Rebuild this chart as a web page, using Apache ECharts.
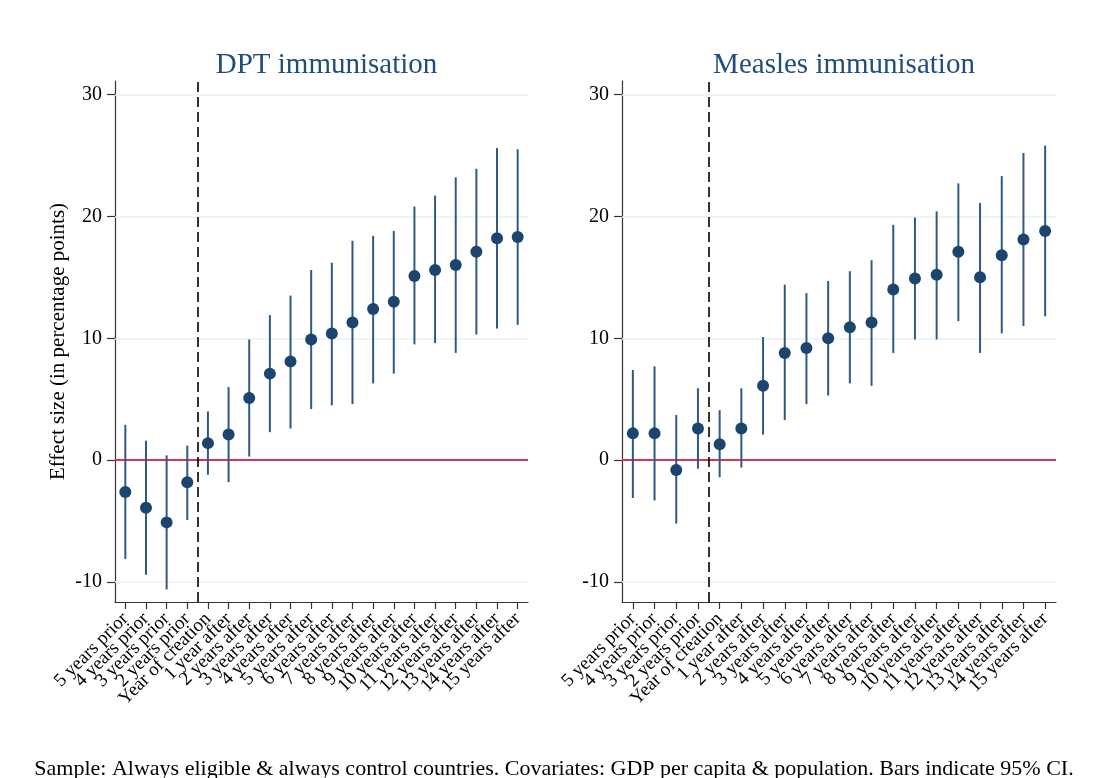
<!DOCTYPE html>
<html>
<head>
<meta charset="utf-8">
<script src="https://cdn.jsdelivr.net/npm/echarts@6/dist/echarts.min.js"></script>
<style>
html,body{margin:0;padding:0;background:#fff;}
#main{width:1097px;height:778px;}
</style>
</head>
<body>
<div id="main"></div>
<script>
const categories = ["5 years prior","4 years prior","3 years prior","2 years prior","Year of creation",
  "1 year after","2 years after","3 years after","4 years after","5 years after","6 years after",
  "7 years after","8 years after","9 years after","10 years after","11 years after","12 years after",
  "13 years after","14 years after","15 years after"];
const yTicks = [-10, 0, 10, 20, 30];

const dptEst = [-2.6,-3.9,-5.1,-1.8,1.4,2.1,5.1,7.1,8.1,9.9,10.4,11.3,12.4,13.0,15.1,15.6,16.0,17.1,18.2,18.3];
const dptLo  = [-8.1,-9.4,-10.6,-4.9,-1.2,-1.8,0.3,2.3,2.6,4.2,4.5,4.6,6.3,7.1,9.5,9.6,8.8,10.3,10.8,11.1];
const dptHi  = [2.9,1.6,0.4,1.2,4.0,6.0,9.9,11.9,13.5,15.6,16.2,18.0,18.4,18.8,20.8,21.7,23.2,23.9,25.6,25.5];

const meaEst = [2.2,2.2,-0.8,2.6,1.3,2.6,6.1,8.8,9.2,10.0,10.9,11.3,14.0,14.9,15.2,17.1,15.0,16.8,18.1,18.8];
const meaLo  = [-3.1,-3.3,-5.2,-0.7,-1.4,-0.6,2.1,3.3,4.6,5.3,6.3,6.1,8.8,9.9,9.9,11.4,8.8,10.4,11.0,11.8];
const meaHi  = [7.4,7.7,3.7,5.9,4.1,5.9,10.1,14.4,13.7,14.7,15.5,16.4,19.3,19.9,20.4,22.7,21.1,23.3,25.2,25.8];

const titles = ["DPT immunisation", "Measles immunisation"];
const eventLine = 4.5; // between "2 years prior" and "Year of creation"
const footnote = "Sample: Always eligible & always control countries. Covariates: GDP per capita & population. Bars indicate 95% CI.";

const FONT = "Liberation Serif";
const NAVY = "#1b456f";
const BAR = "#2f5985";
const yMin = -11.63, yMax = 31.1;

const grids = [
  {left:115, top:81, width:413, height:521},
  {left:622, top:81, width:434, height:521}
];

function makeX(gi){
  return {
    type:'category', gridIndex:gi, data:categories, boundaryGap:true,
    axisLine:{show:true, onZero:false, lineStyle:{color:'#333', width:1.2}},
    axisTick:{show:true, alignWithLabel:true, length:7, lineStyle:{color:'#333', width:1.2}},
    axisLabel:{rotate:45, interval:0, fontFamily:FONT, fontSize:19, color:'#000', margin:14},
    splitLine:{show:false}
  };
}
function makeXV(gi){
  return {type:'value', gridIndex:gi, min:0.5, max:20.5, show:false};
}
function makeY(gi){
  return {
    type:'value', gridIndex:gi, min:yMin, max:yMax,
    name: gi===0 ? 'Effect size (in percentage points)' : '',
    nameLocation:'middle', nameGap:46, nameRotate:90,
    nameTextStyle:{fontFamily:FONT, fontSize:21, color:'#000'},
    axisLine:{show:true, onZero:false, lineStyle:{color:'#333', width:1.2}},
    axisTick:{show:true, customValues:yTicks, length:8, lineStyle:{color:'#333', width:1.2}},
    axisLabel:{customValues:yTicks, fontFamily:FONT, fontSize:20, color:'#000', margin:13,
      formatter: v => String(v)},
    splitLine:{show:false}
  };
}

function errSeries(gi, lo, hi){
  return {
    type:'custom', xAxisIndex:gi, yAxisIndex:gi,
    data: lo.map((l,i)=>[i, l, hi[i]]),
    renderItem:function(params, api){
      const a = api.coord([api.value(0), api.value(1)]);
      const b = api.coord([api.value(0), api.value(2)]);
      return {type:'line', shape:{x1:a[0], y1:a[1], x2:b[0], y2:b[1]},
        style:{stroke:BAR, lineWidth:2}};
    },
    z:3
  };
}
function ptSeries(gi, est){
  return {
    type:'scatter', xAxisIndex:gi, yAxisIndex:gi, data:est,
    symbol:'circle', symbolSize:12, itemStyle:{color:NAVY, opacity:1}, z:4,
    markLine:{
      silent:true, symbol:'none', label:{show:false}, z:1,
      data: yTicks.map(t => ({yAxis:t, lineStyle: t===0 ? {color:'#d0355c', width:2, type:'solid'} : {color:'#eaf0f3', width:1.5, type:'solid'}}))
    }
  };
}
function dashSeries(gi){
  return {
    type:'line', xAxisIndex:gi+2, yAxisIndex:gi, data:[],
    markLine:{silent:true, symbol:'none', label:{show:false},
      lineStyle:{color:'#000', width:1.6, type:[10,5]},
      data:[{xAxis:eventLine}]}, z:5
  };
}

const chart = echarts.init(document.getElementById('main'), null, {renderer:'canvas'});
chart.setOption({
  animation:false,
  backgroundColor:'#fff',
  title: [
    {text:titles[0], left:321.5, top:46, textAlign:'center', textStyle:{fontFamily:FONT, fontSize:29, fontWeight:'normal', color:'#1f4e7a'}},
    {text:titles[1], left:839, top:46, textAlign:'center', textStyle:{fontFamily:FONT, fontSize:29, fontWeight:'normal', color:'#1f4e7a'}},
    {text:footnote, left:549, top:753, textAlign:'center', textStyle:{fontFamily:FONT, fontSize:22, fontWeight:'normal', color:'#000'}}
  ],
  grid: grids,
  xAxis: [makeX(0), makeX(1), makeXV(0), makeXV(1)],
  yAxis: [makeY(0), makeY(1)],
  series: [
    errSeries(0, dptLo, dptHi), ptSeries(0, dptEst), dashSeries(0),
    errSeries(1, meaLo, meaHi), ptSeries(1, meaEst), dashSeries(1)
  ]
});
</script>
</body>
</html>
